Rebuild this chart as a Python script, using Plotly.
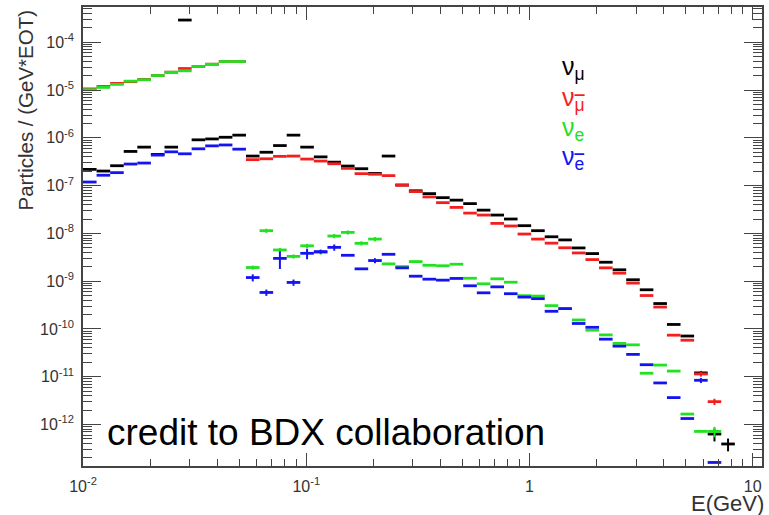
import numpy as np
import plotly.graph_objects as go

# ---- binning (50 log bins from 0.01 to 11 GeV) ----
E_MIN = 0.01
E_MAX = 11.0
N_BINS = 50
edges = np.logspace(np.log10(E_MIN), np.log10(E_MAX), N_BINS + 1)

# ---- data: Particles / (GeV*EOT) per bin ----
nu_mu = [2.19e-7, 2.02e-7, 2.61e-7, 5.2e-7, 6.4e-7, 4.5e-7, 6.4e-7, 2.93e-4, 9.1e-7, 9.5e-7, 1.03e-6, 1.14e-6,
         4.16e-7, 5.0e-7, 6.9e-7, 1.14e-6, 6.4e-7, 4.0e-7, 3.1e-7, 2.57e-7, 2.26e-7, 1.8e-7, 4.16e-7, 1.03e-7,
         7.8e-8, 6.8e-8, 5.6e-8, 4.97e-8, 4.2e-8, 3.07e-8, 2.42e-8, 2.0e-8, 1.45e-8, 1.14e-8, 8.5e-9, 7.3e-9,
         4.96e-9, 3.78e-9, 2.49e-9, 1.73e-9, 1.07e-9, 6.6e-10, 3.4e-10, 1.24e-10, 7.1e-11, 1.2e-11, 6.3e-13, 3.9e-13]
nu_mubar = [1.06e-5, 1.19e-5, 1.38e-5, 1.50e-5, 1.67e-5, 2.02e-5, 2.37e-5, 2.83e-5, 3.12e-5, 3.48e-5, 3.96e-5, 3.96e-5,
            3.5e-7, 3.65e-7, 4.1e-7, 4.16e-7, 3.6e-7, 3.27e-7, 2.87e-7, 2.3e-7, 1.78e-7, 1.73e-7, 1.62e-7, 1.02e-7,
            7.5e-8, 5.8e-8, 4.4e-8, 3.5e-8, 2.66e-8, 2.42e-8, 1.62e-8, 1.43e-8, 9.7e-9, 7.6e-9, 6.25e-9, 5.0e-9,
            3.9e-9, 2.83e-9, 1.9e-9, 1.47e-9, 9.1e-10, 5.0e-10, 2.87e-10, 7.4e-11, 5.8e-11, 1.14e-11, 3.0e-12]
nu_e = [1.02e-5, 1.14e-5, 1.32e-5, 1.54e-5, 1.65e-5, 2.02e-5, 2.37e-5, 2.54e-5, 3.12e-5, 3.48e-5, 3.96e-5, 3.96e-5,
        1.93e-9, 1.14e-8, 4.5e-9, 3.3e-9, 5.5e-9, 4.0e-9, 8.8e-9, 1.05e-8, 6.2e-9, 7.6e-9, 2.3e-9, 2.02e-9,
        2.57e-9, 2.15e-9, 2.1e-9, 2.26e-9, 1.15e-9, 8.8e-10, 1.12e-9, 9.5e-10, 4.97e-10, 4.87e-10, 3.07e-10, 2.66e-10,
        1.54e-10, 9.4e-11, 7.5e-11, 4.97e-11, 4.64e-11, 1.18e-11, 1.75e-11, 1.31e-11, 1.65e-12, 7.15e-13, 7.15e-13]
nu_ebar = [1.19e-7, 1.65e-7, 1.87e-7, 2.83e-7, 2.97e-7, 4.36e-7, 5.1e-7, 4.64e-7, 5.9e-7, 6.8e-7, 7.1e-7, 5.8e-7,
           1.19e-9, 5.8e-10, 3.0e-9, 9.4e-10, 3.83e-9, 4.16e-9, 5.1e-9, 3.48e-9, 1.81e-9, 2.7e-9, 3.65e-9, 1.9e-9,
           1.27e-9, 1.1e-9, 1.05e-9, 1.14e-9, 8.0e-10, 5.7e-10, 7.6e-10, 5.46e-10, 4.64e-10, 4.3e-10, 2.34e-10, 2.66e-10,
           1.3e-10, 1.08e-10, 6.1e-11, 4.36e-11, 2.93e-11, 1.78e-11, 7.4e-12, 3.65e-12, 1.33e-12, 8.4e-12, 1.6e-13]

# relative statistical errors (fraction of value) per bin
err_nu_mu = [0.05] + [0] * 44 + [0.1, 0.3, 0.3]
err_nu_mubar = [0] * 45 + [0.12, 0.15]
err_nu_e = [0] * 12 + [0.1] * 10 + [0] * 23 + [0.05, 0.25]
err_nu_ebar = ([0] * 12 + [0.17, 0.15, 0.4, 0.15, 0.25, 0.1, 0.15, 0.0, 0.0, 0.12]
               + [0] * 23 + [0.12, 0.0])

OVL = "<span style='text-decoration:overline'>%s</span>"
series = [
    ("ν<sub>μ</sub>", nu_mu, err_nu_mu, "#000000"),
    ("ν<sub>" + OVL % "μ" + "</sub>", nu_mubar, err_nu_mubar, "#f41e1e"),
    ("ν<sub>e</sub>", nu_e, err_nu_e, "#22e022"),
    ("ν<sub>" + OVL % "e" + "</sub>", nu_ebar, err_nu_ebar, "#1414f0"),
]

fig = go.Figure()
for name, vals, rel, col in series:
    n = len(vals)
    lo = edges[:n]
    hi = edges[1:n + 1]
    xc = np.sqrt(lo * hi)
    y = np.array(vals, dtype=float)
    ey = np.array(rel, dtype=float) * y
    fig.add_trace(go.Scatter(
        x=xc, y=y, mode="markers", name=name,
        marker=dict(size=0.1, color=col, opacity=0),
        error_x=dict(type="data", symmetric=False, array=hi - xc, arrayminus=xc - lo,
                     color=col, thickness=2.8, width=0),
        error_y=dict(type="data", array=ey, arrayminus=ey, color=col, thickness=2, width=0),
        showlegend=False,
    ))

FONT = "Liberation Sans, Arial, Helvetica, sans-serif"
axis_col = "#444444"

x_minor = [k * 10.0 ** n for n in range(-2, 2) for k in range(2, 10) if k * 10.0 ** n <= E_MAX]
y_minor = [k * 10.0 ** n for n in range(-13, -3) for k in range(2, 10)]

fig.update_layout(
    width=769, height=515,
    margin=dict(l=83, r=5, t=5, b=49),
    paper_bgcolor="white", plot_bgcolor="white",
    font=dict(family=FONT, color="#333333"),
    xaxis=dict(
        type="log", range=[np.log10(E_MIN), np.log10(E_MAX)],
        tickvals=[0.01, 0.1, 1, 10],
        ticktext=["10<sup>-2</sup>", "10<sup>-1</sup>", "1", "10"],
        ticks="inside", ticklen=13, tickwidth=1.3, tickcolor=axis_col,
        showline=True, linecolor=axis_col, linewidth=1.5, mirror="allticks",
        showgrid=False, zeroline=False,
        tickfont=dict(size=16, family=FONT, color="#333333"),
        ticklabelstandoff=5,
        minor=dict(tickvals=x_minor, ticks="inside", ticklen=7, tickcolor=axis_col, tickwidth=1.2, showgrid=False),
    ),
    yaxis=dict(
        type="log", range=[-12.87, -3.26],
        tickvals=[10.0 ** p for p in range(-12, -3)],
        ticktext=["10<sup>%d</sup>" % p for p in range(-12, -3)],
        ticks="inside", ticklen=18, tickwidth=1.3, tickcolor=axis_col,
        showline=True, linecolor=axis_col, linewidth=1.5, mirror="allticks",
        showgrid=False, zeroline=False,
        tickfont=dict(size=16, family=FONT, color="#333333"),
        ticklabelstandoff=4,
        minor=dict(tickvals=y_minor, ticks="inside", ticklen=9, tickcolor=axis_col, tickwidth=1.2, showgrid=False),
    ),
)

annotations = [
    dict(text="Particles / (GeV*EOT)", textangle=-90, x=-0.084, y=1.0, xanchor="center", yanchor="top",
         font=dict(size=20.5, family=FONT, color="#333333")),
    dict(text="E(GeV)", x=1.006, y=-0.082, xanchor="right", yanchor="middle",
         font=dict(size=22, family=FONT, color="#333333")),
    dict(text="credit to BDX collaboration", x=0.032, y=0.074, xanchor="left", yanchor="middle",
         font=dict(size=37, family=FONT, color="#000000")),
]
legend_y = [0.868, 0.799, 0.735, 0.672]
for (name, vals, rel, col), ly in zip(series, legend_y):
    annotations.append(dict(text=name, x=0.703, y=ly, xanchor="left", yanchor="middle",
                            font=dict(size=25, family=FONT, color=col)))
for a in annotations:
    a.update(xref="paper", yref="paper", showarrow=False)
fig.update_layout(annotations=annotations)

fig.write_html("out.html")
